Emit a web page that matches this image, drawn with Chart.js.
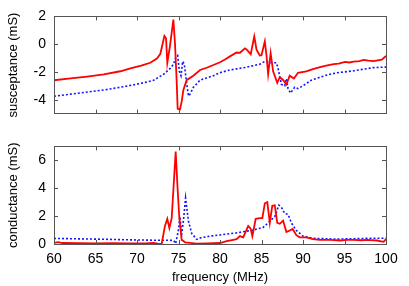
<!DOCTYPE html>
<html lang="en">
<head>
    <meta charset="UTF-8">
    <title>Susceptance and conductance</title>
    <script src="https://cdn.jsdelivr.net/npm/chart.js"></script>
    <style>
        body {
            margin: 0;
            background: white;
        }
        .plots {
            position: relative;
            width: 409px;
            height: 286px;
        }
        #susChart {
            position: absolute;
            left: 0;
            top: 0;
        }
        #condChart {
            position: absolute;
            left: 0;
            top: 130px;
        }
    </style>
</head>
<body>
    <div class="plots">
        <canvas id="susChart" width="409" height="130"></canvas>
        <canvas id="condChart" width="409" height="156"></canvas>
    </div>

    <script>
        // frequency ticks shared by both panels
        const freqTicks = [60, 65, 70, 75, 80, 85, 90, 95, 100];
        const susTicks = [-4, -2, 0, 2];
        const condTicks = [0, 2, 4, 6];

        // susceptance (mS), red solid
        const susRedFreq = [60, 62, 64, 66, 68, 69.2, 70.5, 71.6, 72.4, 72.8, 73.0, 73.3, 73.5, 73.65, 73.98,
            74.38, 74.58, 74.78, 74.9, 75.18, 75.38, 75.58, 75.98, 76.78, 77.6, 78.4, 79.2, 80.0, 80.6, 81.2,
            82.0, 82.4, 83.0, 83.2, 83.7, 84.13, 84.4, 84.8, 85.0, 85.4, 85.6, 85.8, 86.1, 86.4, 86.9, 87.2,
            87.6, 88.0, 88.4, 88.9, 89.4, 90.4, 91.2, 92.05, 92.8, 93.7, 94.3, 95.06, 95.6, 96.1, 96.8, 97.3,
            97.9, 98.5, 99.0, 99.5, 100];
        const susRedVal = [-2.6, -2.47, -2.33, -2.17, -1.95, -1.75, -1.55, -1.34, -1.03, -0.72, -0.2, 0.59, 0.42, -1.34, -0.1,
            1.77, 0.0, -2.69, -4.66, -4.7, -4.14, -3.31, -2.59, -2.27, -1.86, -1.7, -1.5, -1.3, -1.1, -0.88,
            -0.6, -0.62, -0.3, -0.38, -0.72, 0.55, -0.4, -0.82, -0.8, 0.2, -0.8, -2.17, -0.65, -1.96, -2.79, -2.38,
            -2.58, -2.9, -2.27, -2.48, -2.06, -1.96, -1.8, -1.65, -1.55, -1.44, -1.4, -1.28, -1.32, -1.26, -1.22, -1.13,
            -1.18, -1.22, -1.17, -1.12, -0.85];

        // susceptance (mS), blue dotted
        const susBlueFreq = [60, 62, 64, 66, 68, 69.5, 71.0, 72.0, 73.2, 74.0, 74.4, 74.7, 74.9, 75.1, 75.3,
            75.5, 75.7, 76.0, 76.2, 76.4, 76.8, 77.6, 79.2, 80, 81.2, 82, 83, 84, 84.8, 85.4, 86.2, 86.8,
            87.0, 87.4, 87.8, 88.0, 88.2, 88.5, 89.0, 89.4, 90.0, 91.0, 92.05, 93, 94.1, 96.1, 97.3, 98.5, 100];
        const susBlueVal = [-3.75, -3.6, -3.45, -3.3, -3.1, -2.94, -2.75, -2.6, -2.17, -1.75, -1.44, -0.92, -0.82, -1.96, -2.27,
            -1.24, -1.44, -2.9, -3.73, -3.6, -3.1, -2.59, -2.27, -2.05, -1.86, -1.78, -1.68, -1.55, -1.44, -1.24, -1.34, -1.34,
            -1.75, -2.9, -3.0, -2.48, -3.21, -3.52, -3.1, -3.2, -3.0, -2.59, -2.38, -2.2, -2.06, -1.92, -1.8, -1.69, -1.65];

        // conductance (mS), red solid
        const condRedFreq = [60, 60.5, 61, 63, 65, 67, 69, 70, 71, 72, 72.5, 72.97, 73.37, 73.65, 73.9, 74.18,
            74.38, 74.66, 74.86, 75.1, 75.38, 75.8, 77.2, 78.5, 80.0, 80.8, 81.6, 82.0, 82.4, 82.8, 83.4, 83.7,
            83.9, 84.3, 84.8, 85.1, 85.4, 85.7, 86.0, 86.3, 86.6, 86.9, 87.2, 87.6, 88.0, 88.4, 88.75, 89.2,
            89.6, 90.4, 91.2, 92, 93.3, 94.5, 95.2, 96.1, 97, 97.7, 98.9, 99.7, 100];
        const condRedVal = [0.08, 0.14, 0.07, 0.06, 0.05, 0.06, 0.04, 0.05, 0.04, 0.08, 0.03, 0.0, 1.3, 1.81, 1.15, 1.85,
            3.85, 6.63, 4.3, 1.85, 0.3, 0.12, 0.03, 0.05, 0.07, 0.2, 0.3, 0.35, 0.57, 0.48, 1.3, 1.08,
            0.57, 1.81, 1.86, 1.86, 2.92, 3.0, 1.52, 2.74, 2.77, 1.52, 1.45, 1.68, 0.86, 0.97, 1.08, 0.63,
            0.48, 0.48, 0.35, 0.3, 0.3, 0.25, 0.3, 0.3, 0.27, 0.3, 0.25, 0.16, 0.35];

        // conductance (mS), blue dotted
        const condBlueFreq = [60, 63, 66, 69, 72, 73.5, 74.4, 74.66, 74.98, 75.18, 75.38, 75.6, 75.85, 76.2,
            76.6, 77.2, 77.7, 79, 80, 82, 84, 85.2, 86, 86.6, 87.1, 87.4, 87.8, 88.2, 88.6, 89.2, 90, 91.2,
            94.1, 98.1, 99.7, 100];
        const condBlueVal = [0.4, 0.37, 0.34, 0.3, 0.27, 0.27, 0.26, 0.03, 0.97, 1.97, 0.7, 1.7, 3.3, 1.63,
            0.75, 0.33, 0.45, 0.58, 0.65, 0.8, 1.0, 1.19, 1.63, 1.97, 2.79, 2.63, 2.19, 2.12, 1.52, 0.97, 0.57, 0.41,
            0.35, 0.41, 0.41, 0.4];

        const FONT = '"Liberation Sans", Arial, sans-serif';
        const pairs = (xs, ys) => xs.map((f, i) => ({ x: f, y: ys[i] }));

        // frame + inward tick marks on all four sides, gnuplot style
        const framePlugin = {
            id: 'frame',
            afterDatasetsDraw(chart) {
                const { ctx, chartArea: a, scales: { x, y } } = chart;
                ctx.save();
                ctx.strokeStyle = '#555';
                ctx.lineWidth = 1;
                ctx.beginPath();
                x.ticks.forEach(t => {
                    const px = Math.round(x.getPixelForValue(t.value)) + 0.5;
                    ctx.moveTo(px, a.bottom); ctx.lineTo(px, a.bottom - 4);
                    ctx.moveTo(px, a.top); ctx.lineTo(px, a.top + 4);
                });
                y.ticks.forEach(t => {
                    const py = Math.round(y.getPixelForValue(t.value)) + 0.5;
                    ctx.moveTo(a.left, py); ctx.lineTo(a.left + 4, py);
                    ctx.moveTo(a.right, py); ctx.lineTo(a.right - 4, py);
                });
                ctx.stroke();
                ctx.strokeRect(Math.round(a.left) + 0.5, Math.round(a.top) + 0.5,
                    Math.round(a.right - a.left), Math.round(a.bottom - a.top));
                ctx.restore();
            }
        };

        function makeChart(id, redData, blueData, yMin, yMax, yTicks, yTitle, showX, padding) {
            return new Chart(document.getElementById(id), {
                type: 'line',
                data: {
                    datasets: [{
                        data: redData,
                        borderColor: 'rgb(255, 0, 0)',
                        borderWidth: 1.8,
                        pointRadius: 0,
                        tension: 0
                    }, {
                        data: blueData,
                        borderColor: 'rgb(20, 20, 255)',
                        borderWidth: 1.6,
                        borderDash: [2, 2],
                        pointRadius: 0,
                        tension: 0
                    }]
                },
                options: {
                    responsive: false,
                    animation: false,
                    layout: { padding: padding },
                    plugins: {
                        legend: { display: false },
                        tooltip: { enabled: false }
                    },
                    scales: {
                        x: {
                            type: 'linear',
                            min: 60,
                            max: 100,
                            afterBuildTicks: s => { s.ticks = freqTicks.map(v => ({ value: v })); },
                            afterFit: s => { s.height = showX ? 42 : 0; },
                            grid: { display: false, drawTicks: false },
                            border: { display: false },
                            ticks: {
                                display: showX,
                                padding: 7,
                                color: '#000',
                                maxRotation: 0,
                                font: { family: FONT, size: 14 }
                            },
                            title: {
                                display: showX,
                                text: 'frequency (MHz)',
                                color: '#000',
                                padding: { top: 0, bottom: 1 },
                                font: { family: FONT, size: 13 }
                            }
                        },
                        y: {
                            min: yMin,
                            max: yMax,
                            afterBuildTicks: s => { s.ticks = yTicks.map(v => ({ value: v })); },
                            afterFit: s => { s.width = 54; },
                            grid: { display: false, drawTicks: false },
                            border: { display: false },
                            ticks: {
                                padding: 8,
                                color: '#000',
                                font: { family: FONT, size: 14 }
                            },
                            title: {
                                display: true,
                                text: yTitle,
                                color: '#000',
                                padding: { top: 6, bottom: 0 },
                                font: { family: FONT, size: 13 }
                            }
                        }
                    }
                },
                plugins: [framePlugin]
            });
        }

        makeChart('susChart', pairs(susRedFreq, susRedVal), pairs(susBlueFreq, susBlueVal),
            -5, 2, susTicks, 'susceptance (mS)', false, { top: 8, right: 23, bottom: 10, left: 0 });
        makeChart('condChart', pairs(condRedFreq, condRedVal), pairs(condBlueFreq, condBlueVal),
            0, 7, condTicks, 'conductance (mS)', true, { top: 10, right: 23, bottom: 0, left: 0 });
    </script>
</body>
</html>
